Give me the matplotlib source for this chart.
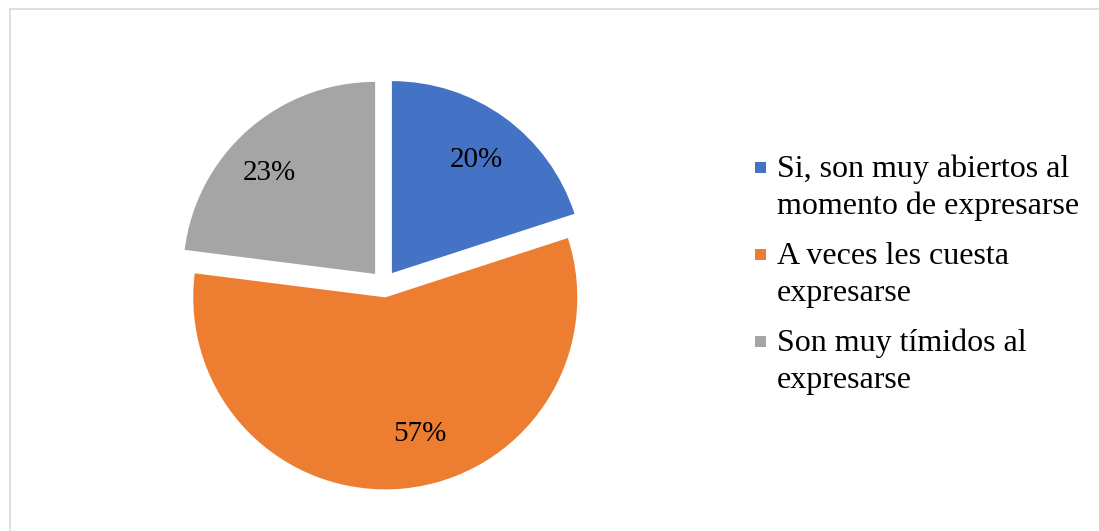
import matplotlib
matplotlib.use("Agg")
import numpy as np
import matplotlib.pyplot as plt
from matplotlib.patches import Rectangle

# ---- data ----
categories = ["Si, son muy abiertos al\nmomento de expresarse",
              "A veces les cuesta\nexpresarse",
              "Son muy tímidos al\nexpresarse"]
values = [20, 57, 23]
colors = ["#4472C4", "#ED7D31", "#A5A5A5"]

W, H = 1099, 531
plt.rcParams['font.family'] = ['Liberation Serif', 'DejaVu Serif']
fig = plt.figure(figsize=(W / 100, H / 100), dpi=100)
fig.patch.set_facecolor("white")

# outer chart border (only top/left visible in reference)
fig.add_artist(Rectangle((9.5 / W, -0.1), 1.2, (H - 8.5) / H + 0.1,
                         transform=fig.transFigure, fill=False,
                         edgecolor="#d9d9d9", linewidth=1.2))

# pie axes: center (384, 284) px, radius 192 px
cx, cy, r = 384, 284, 192
lim = 1.2
side = 2 * lim * r
ax = fig.add_axes([(cx - side / 2) / W, (H - cy - side / 2) / H, side / W, side / H])
wedges, texts, autotexts = ax.pie(
    values, colors=colors, startangle=90, counterclock=False,
    explode=[0.07] * len(values), autopct="%1.0f%%", pctdistance=0.75,
    textprops=dict(fontsize=21, color="black"),
    wedgeprops=dict(linewidth=0))

# label placement within each wedge (fraction along sweep, radial distance)
label_frac = [0.5, 0.455, 0.45]
label_dist = [0.75, 0.72, 0.77]
for w, t, f, d in zip(wedges, autotexts, label_frac, label_dist):
    ang = np.deg2rad(w.theta2 - f * (w.theta2 - w.theta1))
    x0, y0 = w.center
    t.set_position((x0 + d * w.r * np.cos(ang), y0 + d * w.r * np.sin(ang)))
    t.set_va("center_baseline")

ax.set_xlim(-lim, lim)
ax.set_ylim(-lim, lim)
ax.set_aspect("equal")
ax.axis("off")

# legend (manual, marker aligned with first line)
leg_x_marker = 755
leg_x_text = 777
first_baseline = 177
entry_step = 87
line_step = 37
for i, (lab, col) in enumerate(zip(categories, colors)):
    base = first_baseline + i * entry_step
    fig.add_artist(Rectangle((leg_x_marker / W, (H - base + 4) / H), 11 / W, 11 / H,
                             transform=fig.transFigure, facecolor=col, edgecolor="none"))
    for j, line in enumerate(lab.split("\n")):
        fig.text(leg_x_text / W, (H - (base + j * line_step)) / H, line,
                 fontsize=23, va="baseline", ha="left", color="black")

fig.savefig("out.png", dpi=100, facecolor="white")
